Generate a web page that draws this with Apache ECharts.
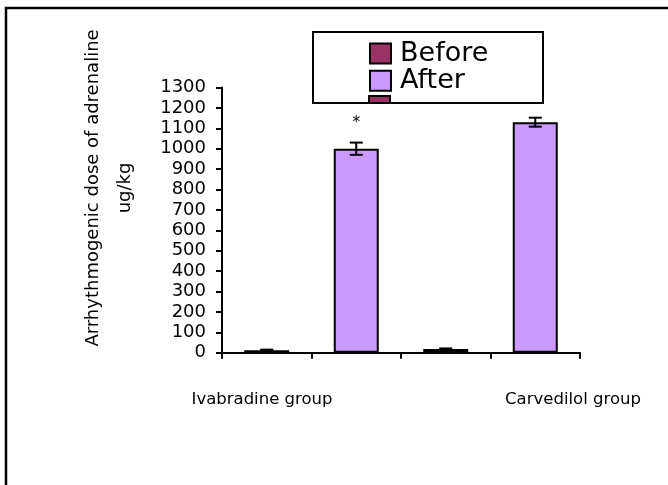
<!DOCTYPE html>
<html>
<head>
<meta charset="utf-8">
<script src="https://cdn.jsdelivr.net/npm/echarts@6/dist/echarts.min.js"></script>
<style>html,body{margin:0;padding:0;background:#fff}#c{width:668px;height:485px}</style>
</head>
<body>
<div id="c"></div>
<script>
var categories = ['Ivabradine Before', 'Ivabradine After', 'Carvedilol Before', 'Carvedilol After'];
var groupLabels = ['Ivabradine group', 'Carvedilol group'];
var beforeValues = [12, '-', 18, '-'];
var afterValues = ['-', 1000, '-', 1130];
var errorValues = [3, 30, 3, 22];
var yTicks = [0, 1300, 100];
var FONT = 'DejaVu Sans';

var chart = echarts.init(document.getElementById('c'));

var allValues = categories.map(function (c, i) {
  return beforeValues[i] !== '-' ? beforeValues[i] : afterValues[i];
});
var errData = allValues.map(function (v, i) { return [i, v, errorValues[i]]; });

var afterData = afterValues.map(function (v, i) {
  if (i === 1) {
    return { value: v, label: { show: true, formatter: '*', position: 'top', distance: 18, fontSize: 16, color: '#000', fontFamily: FONT } };
  }
  return v;
});

chart.setOption({
  animation: false,
  backgroundColor: '#fff',
  grid: { left: 222, top: 87.5, right: 88, bottom: 132.3 },
  legend: {
    data: ['Before', 'After'],
    orient: 'vertical',
    left: 369, top: 40, padding: 0,
    itemWidth: 21, itemHeight: 20, itemGap: 0.3,
    icon: 'rect',
    textStyle: { fontFamily: FONT, fontSize: 27, lineHeight: 26, color: '#000', padding: [0, 0, 0, 4] },
    itemStyle: { borderColor: '#000', borderWidth: 2 }
  },
  xAxis: {
    type: 'category',
    data: categories,
    axisLine: { lineStyle: { color: '#000', width: 2 } },
    axisTick: { show: true, interval: 0, length: 6, lineStyle: { color: '#000', width: 2 } },
    axisLabel: { show: false, interval: 0 }
  },
  yAxis: {
    type: 'value',
    min: yTicks[0], max: yTicks[1], interval: yTicks[2],
    splitLine: { show: false },
    axisLine: { show: true, lineStyle: { color: '#000', width: 2 } },
    axisTick: { show: true, length: 6, lineStyle: { color: '#000', width: 2 } },
    axisLabel: { margin: 16, fontFamily: FONT, fontSize: 18, color: '#000', formatter: function (v) { return String(v); } }
  },
  graphic: [
    { type: 'rect', shape: { x: 6, y: 8, width: 700, height: 520 }, style: { fill: 'none', stroke: '#000', lineWidth: 2.5 }, z: 1 },
    { type: 'rect', shape: { x: 369, y: 96, width: 21, height: 7 }, style: { fill: '#993366', stroke: '#000', lineWidth: 2 }, z: 10 },
    { type: 'rect', shape: { x: 313, y: 32, width: 230, height: 71 }, style: { fill: 'none', stroke: '#000', lineWidth: 2 }, z: 11 },
    { type: 'text', x: 109, y: 188, rotation: Math.PI / 2,
      style: { text: 'Arrhythmogenic dose of adrenaline\nug/kg', align: 'center', verticalAlign: 'middle', fontFamily: FONT, fontSize: 18, lineHeight: 32, fill: '#000' } },
    { type: 'text', x: 262, y: 400, style: { text: groupLabels[0], align: 'center', verticalAlign: 'middle', fontFamily: FONT, fontSize: 16.5, fill: '#000' } },
    { type: 'text', x: 573, y: 400, style: { text: groupLabels[1], align: 'center', verticalAlign: 'middle', fontFamily: FONT, fontSize: 16.5, fill: '#000' } }
  ],
  series: [
    { name: 'Before', type: 'bar', data: beforeValues, barWidth: 45, barGap: '-100%',
      itemStyle: { color: '#993366', borderColor: '#000', borderWidth: 2 } },
    { name: 'After', type: 'bar', data: afterData, barWidth: 45, barGap: '-100%',
      itemStyle: { color: '#CC99FF', borderColor: '#000', borderWidth: 2 } },
    { name: 'err', type: 'custom', data: errData, z: 5,
      renderItem: function (params, api) {
        var x = api.value(0), v = api.value(1), e = api.value(2);
        var hi = api.coord([x, v + e]);
        var lo = api.coord([x, v - e]);
        var hw = 6.5;
        var st = { stroke: '#000', lineWidth: 2 };
        return { type: 'group', children: [
          { type: 'line', shape: { x1: hi[0], y1: hi[1], x2: lo[0], y2: lo[1] }, style: st },
          { type: 'line', shape: { x1: hi[0] - hw, y1: hi[1], x2: hi[0] + hw, y2: hi[1] }, style: st },
          { type: 'line', shape: { x1: lo[0] - hw, y1: lo[1], x2: lo[0] + hw, y2: lo[1] }, style: st }
        ] };
      }
    }
  ]
});
</script>
</body>
</html>
